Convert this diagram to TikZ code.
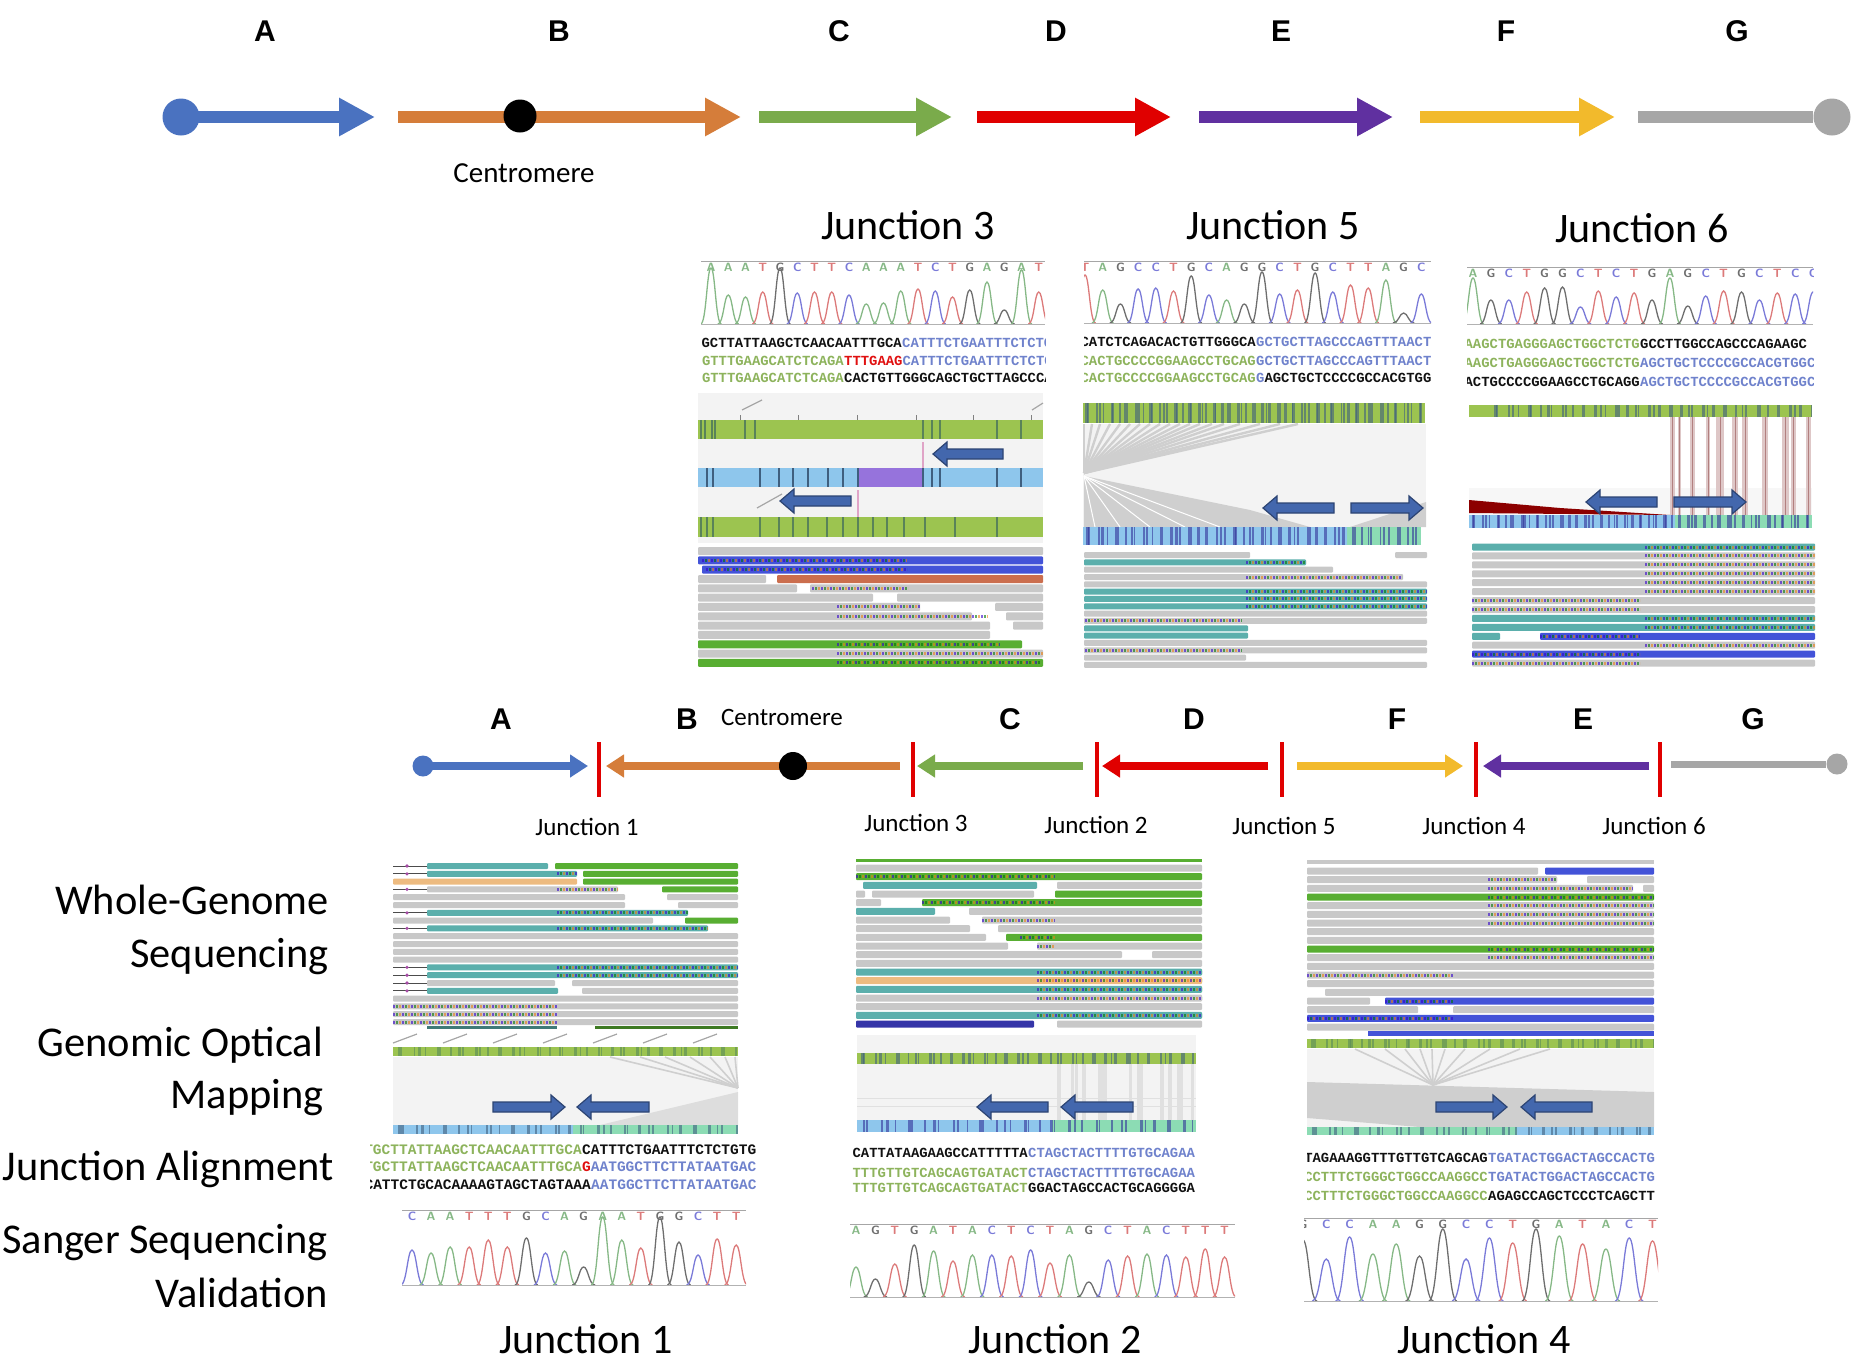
\documentclass[tikz,border=0pt]{standalone}
\usepackage{fontspec}
\usepackage{tikz}
\usetikzlibrary{arrows.meta}
\setmainfont{Carlito}
\newfontfamily\headfont{Liberation Sans}
\newfontfamily\seqfont{Liberation Mono}
\definecolor{chrA}{HTML}{4A72C0}
\definecolor{chrB}{HTML}{D57D3A}
\definecolor{chrC}{HTML}{7AAB4B}
\definecolor{chrD}{HTML}{E00000}
\definecolor{chrE}{HTML}{6030A0}
\definecolor{chrF}{HTML}{F2BA2C}
\definecolor{chrG}{HTML}{A6A6A6}
\definecolor{pkA}{HTML}{86B886}
\definecolor{pkC}{HTML}{7A7AD8}
\definecolor{pkG}{HTML}{6E6E6E}
\definecolor{pkT}{HTML}{DC7A7A}
\definecolor{sqG}{HTML}{8DB35C}
\definecolor{sqB}{HTML}{6F82CC}
\definecolor{sqR}{HTML}{E01010}
\definecolor{sqK}{HTML}{111111}
\definecolor{rdgray}{HTML}{C8C8C8}
\definecolor{rdteal}{HTML}{5BAFAC}
\definecolor{rdgreen}{HTML}{58AE32}
\definecolor{rdblue}{HTML}{4353D8}
\definecolor{rdnavy}{HTML}{3535A8}
\definecolor{rdorange}{HTML}{EDBB80}
\definecolor{rdrust}{HTML}{CB6E4E}
\definecolor{mapgreen}{HTML}{9CC450}
\definecolor{mapblue}{HTML}{8EC6EC}
\definecolor{mapteal}{HTML}{8CDCB4}
\definecolor{mapback}{HTML}{F3F3F3}
\definecolor{mapfan}{HTML}{CFCFCF}
\definecolor{mapdark}{HTML}{3F5F7F}
\tikzset{
  bigcaption/.style = {font=\fontsize{42}{48}\selectfont, inner sep=0pt},
  smallcaption/.style = {font=\fontsize{25}{30}\selectfont, inner sep=0pt},
  seglabel/.style = {font=\headfont\bfseries\fontsize{30}{34}\selectfont, inner sep=0pt},
  sidelabel/.style = {font=\fontsize{42.4}{48}\selectfont, inner sep=0pt, anchor=east},
  seqtext/.style = {font=\seqfont\bfseries\fontsize{13.9}{16}\selectfont, inner sep=0pt},
  baselabel/.style = {font=\sffamily\bfseries\fontsize{12}{13}\selectfont, inner sep=0pt},
  toparrow/.style = {line width=12pt, -{Triangle[length=36pt,width=36pt]}},
  lowarrow/.style = {line width=8pt, -{Triangle[length=18pt,width=22pt]}},
  junctionbar/.style = {draw=chrD, line width=3.5pt},
  blockarrow/.style = {fill=chrA!90!black, draw=chrA!60!black, line width=1.2pt},
  fanline/.style = {draw=mapfan, line width=2.4pt}
}
% chromatogram: x1, x2, ytop, ybase, first peak, step, base/height list
\newcommand{\chromat}[7]{
  \begin{scope}
    \clip (#1,#3-3) rectangle (#2,#4+1);
    \draw[gray!70, line width=1pt] (#1,#3) -- (#2,#3);
    \foreach \letter/\high [count=\k from 0] in {#7} {
      \pgfmathsetmacro\px{#5+\k*#6}
      \pgfmathsetmacro\halfw{#6*0.6}
      \draw[pk\letter, line width=1.3pt] (\px-\halfw,#4) .. controls (\px-\halfw*0.45,#4) and (\px-\halfw*0.4,#4-\high) .. (\px,#4-\high) .. controls (\px+\halfw*0.4,#4-\high) and (\px+\halfw*0.45,#4) .. (\px+\halfw,#4);
      \node[baselabel, text=pk\letter] at (\px,#3+6) {\letter};
    }
    \draw[gray!60, line width=1pt] (#1,#4) -- (#2,#4);
  \end{scope}
}
% one alignment row, split at x = #1
\newcommand{\seqrow}[6]{
  \node[seqtext, anchor=east, text=#3] at (#1,#2) {#4};
  \node[seqtext, anchor=west, text=#5] at (#1,#2) {#6};
}
% reads: y0, step, height, row/from/to/colour
\newcommand{\reads}[4]{
  \foreach \row/\from/\upto/\col in {#4} {
    \fill[\col, rounded corners=1pt] (\from,#1+\row*#2-#3/2) rectangle (\upto,#1+\row*#2+#3/2);
  }
}
% mismatch letters on reads: y0, step, row/from/to
\newcommand{\bases}[3]{
  \foreach \row/\from/\upto in {#3} {
    \draw[blue!60!violet, line width=3pt, opacity=0.6, dash pattern=on 2pt off 7pt] (\from,#1+\row*#2) -- (\upto,#1+\row*#2);
    \draw[orange!70!brown, line width=3pt, opacity=0.6, dash pattern=on 2pt off 7pt, dash phase=3pt] (\from,#1+\row*#2) -- (\upto,#1+\row*#2);
    \draw[green!45!black, line width=3pt, opacity=0.6, dash pattern=on 2pt off 7pt, dash phase=6pt] (\from,#1+\row*#2) -- (\upto,#1+\row*#2);
  }
}
% stripes in a map bar: x1, x2, y1, y2, count, colour
\newcommand{\stripes}[6]{
  \pgfmathsetmacro\gap{(#2-#1)/#5}
  \foreach \k in {1,...,#5} {
    \pgfmathsetmacro\px{#1+(\k-0.5+0.4*sin(\k*137))*\gap}
    \pgfmathsetmacro\barw{0.9+1.8*abs(sin(\k*71))}
    \draw[#6, line width=\barw pt, opacity=0.6] (\px,#3) -- (\px,#4);
  }
}
\newcommand{\bluearrow}[3]{
  \pgfmathsetmacro\neck{#1+ifthenelse(#2>#1,14,-14)}
  \path[blockarrow] (#2,#3-5) -- (\neck,#3-5) -- (\neck,#3-12) -- (#1,#3) -- (\neck,#3+12) -- (\neck,#3+5) -- (#2,#3+5) -- cycle;
}
\begin{document}
\begin{tikzpicture}[x=1pt, y=-1pt]
\useasboundingbox (0,0) rectangle (1856,1361);
% top chromosome
\foreach \seg/\sx/\ex/\col in {a/181/375/chrA, b/398/741/chrB, c/759/952/chrC, d/977/1171/chrD, e/1199/1393/chrE, f/1420/1615/chrF} {
  \coordinate (top\seg s) at (\sx,117);
  \coordinate (top\seg e) at (\ex,117);
  \draw[toparrow, \col] (top\seg s) -- (top\seg e);
}
\coordinate (topgs) at (1638,117);
\node[circle, fill=chrA, inner sep=0pt, minimum size=37pt] (topadot) at (181,117) {};
\node[circle, fill=chrG, inner sep=0pt, minimum size=37pt] (topgdot) at (1832,117) {};
\draw[chrG, line width=12pt] (topgs) -- (topgdot);
\node[circle, fill=black, inner sep=0pt, minimum size=33pt] (topcen) at (520,116) {};
\foreach \seg/\sx in {A/265, B/559, C/839, D/1056, E/1281, F/1506, G/1737} {
  \node[seglabel] (toplabel\seg) at (\sx,31) {\seg};
}
\node[font=\fontsize{29}{32}\selectfont, inner sep=0pt] (topcenlabel) at (524,173) {Centromere};
% lower chromosome
\foreach \seg/\sx/\ex/\col in {a/423/588/chrA, b/900/606/chrB, c/1083/917/chrC, d/1268/1102/chrD, f/1297/1463/chrF, e/1649/1483/chrE} {
  \coordinate (low\seg s) at (\sx,766);
  \coordinate (low\seg e) at (\ex,766);
  \draw[lowarrow, \col] (low\seg s) -- (low\seg e);
}
\coordinate (lowgs) at (1671,764);
\node[circle, fill=chrA, inner sep=0pt, minimum size=21pt] (lowadot) at (423,766) {};
\node[circle, fill=chrG, inner sep=0pt, minimum size=21pt] (lowgdot) at (1837,764) {};
\draw[chrG, line width=7pt] (lowgs) -- (lowgdot);
\node[circle, fill=black, inner sep=0pt, minimum size=28pt] (lowcen) at (793,766) {};
\foreach \jn/\sx in {1/599, 3/913, 2/1097, 5/1282, 4/1476, 6/1660} {
  \coordinate (jbar\jn t) at (\sx,742);
  \coordinate (jbar\jn b) at (\sx,797);
  \draw[junctionbar] (jbar\jn t) -- (jbar\jn b);
}
\foreach \seg/\sx in {A/501, B/687, C/1010, D/1194, F/1397, E/1583, G/1753} {
  \node[seglabel] (lowlabel\seg) at (\sx,719) {\seg};
}
\node[smallcaption] (lowcenlabel) at (782,717) {Centromere};
\foreach \jn/\sx/\sy in {1/587/827, 3/916/823, 2/1096/825, 5/1284/826, 4/1474/826, 6/1654/826} {
  \node[smallcaption] (jlabel\jn) at (\sx,\sy) {Junction \jn};
}
% captions
\foreach \jn/\sx/\sy in {3/908/225, 5/1273/225, 6/1642/228, 1/586/1339, 2/1055/1339, 4/1484/1339} {
  \node[bigcaption] (jcap\jn) at (\sx,\sy) {Junction \jn};
}
\node[sidelabel] (wgs1) at (329,900) {Whole-Genome};
\node[sidelabel] (wgs2) at (329,957) {Sequencing};
\node[sidelabel] (gom1) at (323,1045) {Genomic Optical};
\node[sidelabel] (gom2) at (324,1098) {Mapping};
\node[sidelabel] (aln1) at (334,1169) {Junction Alignment};
\node[sidelabel] (san1) at (328,1243) {Sanger Sequencing};
\node[sidelabel] (san2) at (328,1293) {Validation};
% junction 3
\chromat{701}{1045}{261}{324}{711}{17.25}{A/56,A/29,A/27,T/32,G/56,C/31,T/32,T/32,C/29,A/20,A/21,A/33,T/35,C/33,T/27,G/34,A/42,G/14,A/54,T/32}
\begin{scope}
  \clip (701,335) rectangle (1045,387);
  \seqrow{902}{343}{sqK}{GCTTATTAAGCTCAACAATTTGCA}{sqB}{CATTTCTGAATTTCTCTG}
  \seqrow{844}{361}{sqG}{GTTTGAAGCATCTCAGA}{sqR}{TTTGAAG\textcolor{sqB}{CATTTCTGAATTTCTCTG}}
  \seqrow{844}{378}{sqG}{GTTTGAAGCATCTCAGA}{sqK}{CACTGTTGGGCAGCTGCTTAGCCCA}
\end{scope}
\fill[mapback] (698,393) rectangle (1043,543);
\fill[mapgreen] (698,420) rectangle (1043,439);
\fill[mapblue] (698,468) rectangle (1043,487);
\fill[violet!50!blue!55] (858,468) rectangle (923,487);
\fill[mapgreen] (698,517) rectangle (1043,537);
\foreach \px in {701,705,712,715,745,755,923,932,940,997,1021} {\draw[green!25!black!65, line width=1.4pt] (\px,420) -- (\px,439);}
\foreach \px in {707,713,760,779,793,808,828,843,858,923,932,940,997,1021} {\draw[mapdark, line width=1.4pt] (\px,468) -- (\px,487);}
\foreach \px in {701,707,713,760,779,793,808,827,843,858,873,887,904,925,955,997} {\draw[green!25!black!65, line width=1.4pt] (\px,517) -- (\px,537);}
\foreach \px in {740,798,857,916,973,1031} {\draw[gray, line width=1pt] (\px,415) -- (\px,420);}
\draw[gray!70, line width=1.2pt] (742,410) -- (762,400);
\draw[gray!70, line width=1.2pt] (1032,410) -- (1043,403);
\draw[gray!70, line width=1.2pt] (757,508) -- (782,494);
\draw[magenta!40!violet!40, line width=2.5pt] (923,442) -- (923,468);
\draw[magenta!40!violet!40, line width=2.5pt] (858,490) -- (858,517);
\bluearrow{933}{1003}{454}
\bluearrow{780}{851}{501}
\reads{551}{9.33}{8}{0/698/1043/rdgray, 1/698/1043/rdblue, 2/702/1043/rdblue, 3/698/766/rdgray, 3/777/1043/rdrust, 4/698/797/rdgray, 4/810/1043/rdgray, 5/698/873/rdgray, 5/897/1043/rdgray, 6/698/920/rdgray, 6/995/1043/rdgray, 7/698/972/rdgray, 7/1006/1043/rdgray, 8/698/990/rdgray, 8/1013/1043/rdgray, 9/698/990/rdgray, 10/698/1022/rdgreen, 11/698/1043/rdgray, 12/698/1043/rdgreen}
\bases{551}{9.33}{1/702/907, 2/706/907, 4/812/908, 6/837/920, 7/837/988, 10/837/1000, 11/837/1043, 12/837/1040}
% junction 5
\chromat{1084}{1431}{261}{323}{1085}{17.7}{T/48,A/33,G/19,C/34,C/35,T/32,G/47,C/28,A/23,G/19,G/51,C/29,T/33,G/50,C/31,T/38,T/35,A/43,G/10,C/29}
\begin{scope}
  \clip (1084,335) rectangle (1431,387);
  \seqrow{1256}{342}{sqK}{CATCTCAGACACTGTTGGGCA}{sqB}{GCTGCTTAGCCCAGTTTAACT}
  \seqrow{1256}{361}{sqG}{CACTGCCCCGGAAGCCTGCAG}{sqB}{GCTGCTTAGCCCAGTTTAACT}
  \seqrow{1256}{378}{sqG}{CACTGCCCCGGAAGCCTGCAG}{sqK}{\textcolor{sqB}{G}AGCTGCTCCCCGCCACGTGG}
\end{scope}
\fill[mapback] (1083,424) rectangle (1426,527);
\foreach \tx in {1084,1092,1100,1110,1120,1130,1140,1150,1160,1170,1180,1190,1200,1212,1224,1240,1260,1280,1298} {\draw[fanline] (1084,473) -- (\tx,424);}
\fill[mapfan] (1084,476) -- (1084,527) -- (1310,527) -- (1250,510) -- cycle;
\fill[mapfan] (1350,527) -- (1426,502) -- (1426,527) -- cycle;
\foreach \tx in {1095,1120,1150,1185,1220} {\draw[white, line width=1pt] (1084,476) -- (\tx,527);}
\fill[mapgreen] (1083,403) rectangle (1425,423);
\stripes{1083}{1425}{403}{423}{70}{mapdark}
\fill[mapblue] (1083,527) rectangle (1347,545);
\fill[mapteal] (1347,527) rectangle (1421,545);
\stripes{1083}{1421}{527}{545}{60}{blue!50!black!80}
\bluearrow{1263}{1334}{508}
\bluearrow{1423}{1351}{508}
\reads{555}{7.33}{6}{0/1084/1250/rdgray, 0/1395/1427/rdgray, 1/1084/1306/rdteal, 2/1084/1333/rdgray, 3/1084/1403/rdgray, 4/1084/1427/rdgray, 5/1084/1427/rdteal, 6/1084/1427/rdteal, 7/1084/1427/rdteal, 8/1084/1427/rdgray, 9/1084/1427/rdgray, 10/1084/1248/rdteal, 11/1084/1248/rdteal, 12/1084/1427/rdgray, 13/1084/1427/rdgray, 14/1084/1246/rdgray, 15/1084/1427/rdgray}
\bases{555}{7.33}{1/1246/1306, 3/1246/1402, 5/1246/1427, 6/1246/1427, 7/1246/1427, 9/1085/1242, 13/1085/1242}
% junction 6
\chromat{1467}{1813}{267}{324}{1473}{17.9}{A/46,G/24,C/24,T/32,G/36,G/37,C/17,T/33,C/27,T/31,G/24,A/46,G/18,C/28,T/33,G/32,C/24,T/31,C/30,C/32}
\begin{scope}
  \clip (1467,335) rectangle (1813,391);
  \seqrow{1640}{344}{sqG}{AAGCTGAGGGAGCTGGCTCTG}{sqK}{GCCTTGGCCAGCCCAGAAGC}
  \seqrow{1640}{363}{sqG}{AAGCTGAGGGAGCTGGCTCTG}{sqB}{AGCTGCTCCCCGCCACGTGGC}
  \seqrow{1640}{382}{sqK}{ACTGCCCCGGAAGCCTGCAGG}{sqB}{AGCTGCTCCCCGCCACGTGGC}
\end{scope}
\fill[black!3] (1469,488) rectangle (1812,515);
\foreach \px/\barw in {1672/5,1679/3,1692/5,1708/4,1720/8,1735/6,1745/6,1765/6,1785/7,1793/5,1808/5} {
  \draw[red!25!gray!35, line width=\barw pt] (\px,417) -- (\px,515);
  \draw[red!40!black!50, line width=0.9pt] (\px,417) -- (\px,515);
}
\fill[red!55!black] (1469,500) -- (1469,513) -- (1670,515) -- (1560,508) -- cycle;
\fill[mapgreen] (1469,405) rectangle (1812,417);
\stripes{1490}{1812}{405}{417}{48}{mapdark}
\fill[mapblue] (1469,515) rectangle (1675,528);
\fill[mapteal] (1675,515) rectangle (1812,528);
\stripes{1469}{1812}{515}{528}{70}{blue!50!black!80}
\bluearrow{1586}{1657}{502}
\bluearrow{1746}{1674}{502}
\reads{547}{8.93}{7}{0/1472/1815/rdteal, 1/1472/1815/rdgray, 2/1472/1815/rdgray, 3/1472/1815/rdgray, 4/1472/1815/rdgray, 5/1472/1815/rdgray, 6/1472/1815/rdgray, 7/1472/1815/rdgray, 8/1472/1815/rdteal, 9/1472/1815/rdteal, 10/1472/1500/rdteal, 10/1540/1815/rdblue, 11/1472/1815/rdgray, 12/1472/1815/rdblue, 13/1472/1815/rdgray}
\bases{547}{8.93}{0/1645/1815, 1/1645/1815, 2/1645/1815, 3/1645/1815, 4/1645/1815, 5/1645/1815, 6/1472/1640, 7/1472/1640, 8/1645/1815, 9/1645/1815, 10/1540/1640, 11/1645/1815, 12/1472/1640, 13/1472/1640}
% junction 1
\reads{866}{7.8}{6}{0/427/548/rdteal, 0/555/738/rdgreen, 1/427/577/rdteal, 1/583/738/rdgreen, 2/393/577/rdorange, 2/583/738/rdgreen, 3/427/618/rdgray, 3/662/738/rdgreen, 4/393/625/rdgray, 4/667/738/rdgray, 5/393/625/rdgray, 5/678/738/rdgray, 6/427/688/rdteal, 7/393/653/rdgray, 7/685/738/rdgreen, 8/427/708/rdteal, 9/393/738/rdgray, 10/393/738/rdgray, 11/393/738/rdgray, 12/393/738/rdgray, 13/427/738/rdteal, 14/427/738/rdteal, 15/427/555/rdgray, 15/572/738/rdgray, 16/427/558/rdteal, 16/582/738/rdgray, 17/393/738/rdgray, 18/393/738/rdgray, 19/393/738/rdgray, 20/393/738/rdgray}
\bases{866}{7.8}{1/557/577, 3/557/618, 6/557/688, 8/557/708, 13/557/738, 14/557/738, 18/393/557, 19/393/557, 20/393/557}
\foreach \row in {0,1,3,6,8,13,14,15,16} {
  \draw[black!70, line width=1pt] (393,866+\row*7.8) -- (427,866+\row*7.8);
  \fill[violet!70] (407,866+\row*7.8) circle (1.8pt);
}
\fill[rdteal!70!black] (427,1026) rectangle (557,1029);
\fill[rdgreen!70!black] (595,1026) rectangle (738,1029);
\foreach \px in {393,443,493,543,593,643,693} {\draw[gray!70, line width=1.2pt] (\px,1043) -- (\px+24,1034);}
\fill[mapback] (393,1057) rectangle (738,1125);
\foreach \tx in {610,640,665,690,710,725,735} {\draw[fanline, line width=1.6pt] (738,1088) -- (\tx,1057);}
\fill[mapfan!70] (738,1092) -- (600,1125) -- (738,1125) -- cycle;
\fill[mapgreen] (393,1047) rectangle (738,1056);
\stripes{393}{738}{1047}{1056}{45}{green!30!black!65}
\fill[mapblue] (393,1125) rectangle (573,1134);
\fill[mapteal] (573,1125) rectangle (738,1134);
\stripes{393}{738}{1125}{1134}{40}{mapdark}
\bluearrow{565}{493}{1107}
\bluearrow{577}{649}{1107}
\begin{scope}[seqtext/.style = {font=\seqfont\bfseries\fontsize{14.5}{16}\selectfont, inner sep=0pt}]
  \clip (370,1140) rectangle (757,1195);
  \seqrow{582}{1150}{sqG}{TGCTTATTAAGCTCAACAATTTGCA}{sqK}{CATTTCTGAATTTCTCTGTG}
  \seqrow{582}{1167}{sqG}{TGCTTATTAAGCTCAACAATTTGCA}{sqR}{G\textcolor{sqB}{AATGGCTTCTTATAATGAC}}
  \seqrow{591}{1185}{sqK}{CATTCTGCACAAAAGTAGCTAGTAAA}{sqB}{AATGGCTTCTTATAATGAC}
\end{scope}
\chromat{402}{746}{1210}{1285}{412}{19.07}{C/35,A/32,A/38,T/38,T/45,T/38,G/47,C/32,A/34,G/18,A/68,A/45,T/37,G/68,G/43,C/30,T/46,T/40}
% junction 2
\reads{868}{8.67}{7}{0/856/1202/rdgray, 1/856/1202/rdgreen, 2/863/1037/rdteal, 2/1057/1202/rdgray, 3/856/865/rdgray, 3/872/1034/rdgray, 3/1055/1202/rdgreen, 4/856/881/rdgray, 4/922/1202/rdgreen, 5/856/935/rdteal, 5/969/1202/rdgray, 6/856/950/rdgray, 6/982/1202/rdgray, 7/856/970/rdgray, 7/998/1202/rdgray, 8/856/986/rdgray, 8/1006/1202/rdgreen, 9/856/1008/rdgray, 9/1037/1202/rdgray, 10/856/1122/rdgray, 10/1152/1202/rdgray, 11/856/1202/rdgray, 12/856/1202/rdteal, 13/856/1202/rdorange, 14/856/1202/rdteal, 15/856/1202/rdgray, 16/856/1202/rdgray, 17/856/1202/rdteal, 18/856/1034/rdnavy, 18/1057/1202/rdgray}
\fill[rdgreen] (856,859) rectangle (1202,862);
\bases{868}{8.67}{1/856/1055, 4/922/1055, 6/982/1055, 8/1020/1055, 9/1037/1055, 12/1037/1202, 13/1037/1202, 14/1037/1202, 15/1037/1202, 17/1037/1202}
\fill[mapback] (857,1035) rectangle (1196,1120);
\foreach \px/\barw in {1059/4,1072/3,1076/3,1084/4,1100/5,1105/4,1130/3,1140/6,1162/4,1170/4,1180/6,1192/3} {\draw[black!12, line width=\barw pt] (\px,1064) -- (\px,1120);}
\draw[black!12, line width=1pt] (857,1098) -- (1196,1098);
\draw[black!12, line width=1pt] (857,1106) -- (1196,1106);
\fill[mapgreen] (857,1053) rectangle (1196,1064);
\stripes{857}{1196}{1053}{1064}{50}{mapdark}
\fill[mapblue] (857,1120) rectangle (1052,1132);
\fill[mapteal] (1052,1120) rectangle (1196,1132);
\stripes{857}{1196}{1120}{1132}{38}{blue!50!black!80}
\bluearrow{977}{1048}{1107}
\bluearrow{1061}{1133}{1107}
\begin{scope}
  \clip (852,1143) rectangle (1197,1197);
  \seqrow{1028}{1153}{sqK}{CATTATAAGAAGCCATTTTTA}{sqB}{CTAGCTACTTTTGTGCAGAA}
  \seqrow{1028}{1173}{sqG}{TTTGTTGTCAGCAGTGATACT}{sqB}{CTAGCTACTTTTGTGCAGAA}
  \seqrow{1028}{1188}{sqG}{TTTGTTGTCAGCAGTGATACT}{sqK}{GGACTAGCCACTGCAGGGGA}
\end{scope}
\chromat{850}{1235}{1224}{1297}{856}{19.4}{A/30,G/18,T/33,G/52,A/46,T/36,A/42,C/42,T/41,C/47,T/34,A/42,G/15,C/37,T/41,A/43,C/42,T/40,T/48,T/40}
% junction 4
\fill[rdgray] (1307,860) rectangle (1654,864);
\reads{871}{8.67}{7}{0/1307/1538/rdgray, 0/1545/1654/rdblue, 1/1307/1557/rdgray, 1/1587/1654/rdgray, 2/1307/1633/rdgray, 2/1643/1654/rdgray, 3/1307/1654/rdgreen, 4/1307/1654/rdgray, 5/1307/1654/rdgray, 6/1307/1654/rdgray, 7/1307/1654/rdgray, 8/1307/1654/rdgray, 9/1307/1654/rdgreen, 10/1307/1654/rdgray, 11/1307/1654/rdgray, 12/1307/1654/rdgray, 13/1307/1654/rdgray, 14/1325/1654/rdgray, 15/1307/1370/rdgray, 15/1385/1654/rdblue, 16/1307/1418/rdgray, 16/1453/1654/rdgray, 17/1307/1654/rdblue, 18/1307/1654/rdgray}
\fill[rdblue] (1368,1031) rectangle (1654,1036);
\bases{871}{8.67}{1/1488/1557, 2/1488/1633, 3/1488/1654, 4/1488/1654, 5/1488/1654, 6/1488/1654, 9/1488/1654, 10/1488/1654, 12/1307/1453, 15/1385/1453, 17/1307/1453}
\fill[mapback] (1307,1049) rectangle (1654,1127);
\fill[mapfan] (1307,1082) -- (1654,1092) -- (1654,1127) -- (1420,1127) -- (1307,1118) -- cycle;
\foreach \tx in {1355,1385,1405,1420,1432,1445,1465,1490,1520,1550} {\draw[fanline, line width=1.6pt] (1433,1085) -- (\tx,1049);}
\fill[mapgreen] (1307,1039) rectangle (1654,1048);
\stripes{1307}{1654}{1039}{1048}{48}{green!30!black!65}
\fill[mapteal] (1307,1127) rectangle (1517,1135);
\fill[mapblue] (1517,1127) rectangle (1654,1135);
\stripes{1307}{1654}{1127}{1135}{42}{mapdark}
\bluearrow{1507}{1436}{1107}
\bluearrow{1521}{1592}{1107}
\begin{scope}
  \clip (1307,1148) rectangle (1655,1205);
  \seqrow{1488}{1158}{sqK}{TAGAAAGGTTTGTTGTCAGCAG}{sqB}{TGATACTGGACTAGCCACTG}
  \seqrow{1488}{1177}{sqG}{CCTTTCTGGGCTGGCCAAGGCC}{sqB}{TGATACTGGACTAGCCACTG}
  \seqrow{1488}{1196}{sqG}{CCTTTCTGGGCTGGCCAAGGCC}{sqK}{AGAGCCAGCTCCCTCAGCTT}
\end{scope}
\chromat{1304}{1658}{1218}{1301}{1303}{23.3}{G/61,C/42,C/64,A/47,A/57,G/45,G/72,C/42,C/63,T/58,G/72,A/65,T/57,A/52,C/63,T/60}
\end{tikzpicture}
\end{document}
